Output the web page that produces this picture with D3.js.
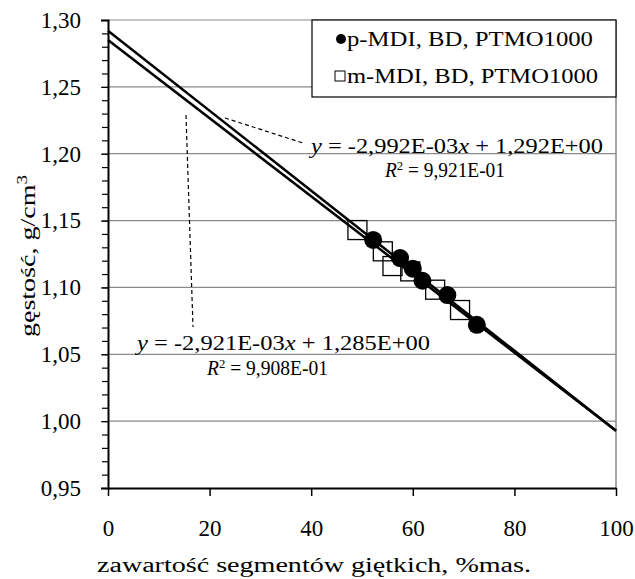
<!DOCTYPE html>
<html>
<head>
<meta charset="utf-8">
<script src="https://cdn.jsdelivr.net/npm/d3@7"></script>
<style>
  body { margin: 0; background: #fff; }
  svg { display: block; }
</style>
</head>
<body>
<div id="chart"></div>
<script>
// p-MDI, BD, PTMO1000 (filled circles)
var pX = [52.2, 57.5, 60.0, 61.9, 66.8, 72.6];
var pY = [1.1355, 1.1220, 1.1140, 1.1050, 1.0943, 1.0720];
// m-MDI, BD, PTMO1000 (open squares)
var mX = [49.1, 54.1, 56.0, 59.5, 64.4, 69.3];
var mY = [1.1429, 1.1270, 1.1160, 1.1120, 1.0983, 1.0831];

// linear trend lines: [slope, intercept]
var fitUpper = [-2.992e-3, 1.292];
var fitLower = [-2.921e-3, 1.285];

var xTicks = [0, 20, 40, 60, 80, 100];
var yTicks = [0.95, 1.00, 1.05, 1.10, 1.15, 1.20, 1.25, 1.30];

var serif = "'Liberation Serif', 'Times New Roman', serif";

var svgWidth = 635;
var svgHeight = 579;

var margin = { top: 20, right: 19, bottom: 91, left: 108 };
var width = svgWidth - margin.left - margin.right;
var height = svgHeight - margin.top - margin.bottom;

var svg = d3.select("#chart")
  .append("svg")
  .attr("width", svgWidth)
  .attr("height", svgHeight)
  .style("font-family", serif);

var chartGroup = svg.append("g")
  .attr("transform", `translate(${margin.left}, ${margin.top})`);

var xScale = d3.scaleLinear().domain([0, 100]).range([0, width]);
var yScale = d3.scaleLinear().domain([0.95, 1.30]).range([height, 0]);

var comma = d => d3.format(".2f")(d).replace(".", ",");

// gridlines
chartGroup.append("g")
  .selectAll("line")
  .data(yTicks.filter(d => d > 0.95))
  .enter()
  .append("line")
  .attr("x1", 0)
  .attr("x2", width)
  .attr("y1", d => yScale(d))
  .attr("y2", d => yScale(d))
  .attr("stroke", "#8a8a8a")
  .attr("stroke-width", 1.2);

// right border of plot area
chartGroup.append("line")
  .attr("x1", width).attr("x2", width)
  .attr("y1", 0).attr("y2", height)
  .attr("stroke", "#8a8a8a")
  .attr("stroke-width", 1.5);

// y axis with minor ticks
var minorY = d3.range(95, 131).map(d => d / 100);
chartGroup.append("g")
  .call(d3.axisLeft(yScale).tickValues(minorY).tickSize(6).tickFormat(""))
  .call(g => g.select(".domain").remove())
  .selectAll("line").attr("stroke", "#000").attr("stroke-width", 1.2);

var yAxis = chartGroup.append("g")
  .call(d3.axisLeft(yScale).tickValues(yTicks).tickSize(7).tickPadding(20).tickFormat(comma));
yAxis.select(".domain").attr("stroke", "#000").attr("stroke-width", 2);
yAxis.selectAll("text").style("font-size", "23px").style("font-family", serif);

var xAxis = chartGroup.append("g")
  .attr("transform", `translate(0, ${height})`)
  .call(d3.axisBottom(xScale).tickValues(xTicks).tickSize(8).tickPadding(24).tickSizeOuter(0));
xAxis.select(".domain").attr("stroke", "#000").attr("stroke-width", 2);
xAxis.selectAll("line").attr("stroke", "#000").attr("stroke-width", 1.5);
xAxis.selectAll("text").style("font-size", "23px").style("font-family", serif);

// trend lines
var line = d3.line().x(d => xScale(d[0])).y(d => yScale(d[1]));
[fitUpper, fitLower].forEach(function(f) {
  chartGroup.append("path")
    .datum([0, 100].map(x => [x, f[0] * x + f[1]]))
    .attr("d", line)
    .attr("fill", "none")
    .attr("stroke", "#000")
    .attr("stroke-width", 2.5);
});

// squares
var sq = 19;
chartGroup.selectAll(".sq")
  .data(d3.zip(mX, mY))
  .enter()
  .append("rect")
  .attr("class", "sq")
  .attr("x", d => xScale(d[0]) - sq / 2)
  .attr("y", d => yScale(d[1]) - sq / 2)
  .attr("width", sq)
  .attr("height", sq)
  .attr("fill", "none")
  .attr("stroke", "#000")
  .attr("stroke-width", 1.3);

// circles
chartGroup.selectAll(".dot")
  .data(d3.zip(pX, pY))
  .enter()
  .append("circle")
  .attr("class", "dot")
  .attr("cx", d => xScale(d[0]))
  .attr("cy", d => yScale(d[1]))
  .attr("r", 9)
  .attr("fill", "#000");

// equation labels
function eqLabel(x, y, len, k, b) {
  var t = svg.append("text")
    .attr("x", x).attr("y", y)
    .attr("textLength", len)
    .attr("lengthAdjust", "spacingAndGlyphs")
    .style("font-size", "20px");
  t.append("tspan").attr("font-style", "italic").text("y");
  t.append("tspan").text(" = " + k + "E-03");
  t.append("tspan").attr("font-style", "italic").text("x");
  t.append("tspan").text(" + " + b + "E+00");
}
function r2Label(x, y, len, v) {
  var t = svg.append("text")
    .attr("x", x).attr("y", y)
    .attr("textLength", len)
    .attr("lengthAdjust", "spacingAndGlyphs")
    .style("font-size", "20px");
  t.append("tspan").attr("font-style", "italic").text("R");
  t.append("tspan").attr("dy", -7).style("font-size", "13px").text("2");
  t.append("tspan").attr("dy", 7).text(" = " + v + "E-01");
}

eqLabel(311, 153, 292, "-2,992", "1,292");
r2Label(385, 177, 120, "9,921");
eqLabel(137, 350, 293, "-2,921", "1,285");
r2Label(207, 375, 121, "9,908");

// dashed leaders
svg.append("line")
  .attr("x1", 225).attr("y1", 118).attr("x2", 303).attr("y2", 143)
  .attr("stroke", "#000").attr("stroke-width", 1.2).attr("stroke-dasharray", "4,3");
svg.append("line")
  .attr("x1", 186).attr("y1", 115).attr("x2", 193).attr("y2", 327)
  .attr("stroke", "#000").attr("stroke-width", 1.2).attr("stroke-dasharray", "4,3");

// legend
var legend = svg.append("g");
legend.append("rect")
  .attr("x", 312).attr("y", 20).attr("width", 304).attr("height", 77)
  .attr("fill", "#fff").attr("stroke", "#000").attr("stroke-width", 1.2);
legend.append("circle").attr("cx", 341).attr("cy", 39).attr("r", 5).attr("fill", "#000");
legend.append("rect").attr("x", 335).attr("y", 71).attr("width", 10).attr("height", 10)
  .attr("fill", "none").attr("stroke", "#000").attr("stroke-width", 1);
legend.append("text").attr("x", 347).attr("y", 46)
  .attr("textLength", 246).attr("lengthAdjust", "spacingAndGlyphs")
  .style("font-size", "20px").text("p-MDI, BD, PTMO1000");
legend.append("text").attr("x", 347).attr("y", 83)
  .attr("textLength", 251).attr("lengthAdjust", "spacingAndGlyphs")
  .style("font-size", "20px").text("m-MDI, BD, PTMO1000");

// axis titles
svg.append("text")
  .attr("x", 97).attr("y", 572)
  .attr("textLength", 434).attr("lengthAdjust", "spacingAndGlyphs")
  .style("font-size", "20px")
  .text("zawartość segmentów giętkich, %mas.");

var yTitle = svg.append("text")
  .attr("transform", "translate(35, 337) rotate(-90)")
  .attr("textLength", 162).attr("lengthAdjust", "spacingAndGlyphs")
  .style("font-size", "22px");
yTitle.append("tspan").text("gęstość, g/cm");
yTitle.append("tspan").attr("dy", -8).style("font-size", "15px").text("3");
</script>
</body>
</html>
